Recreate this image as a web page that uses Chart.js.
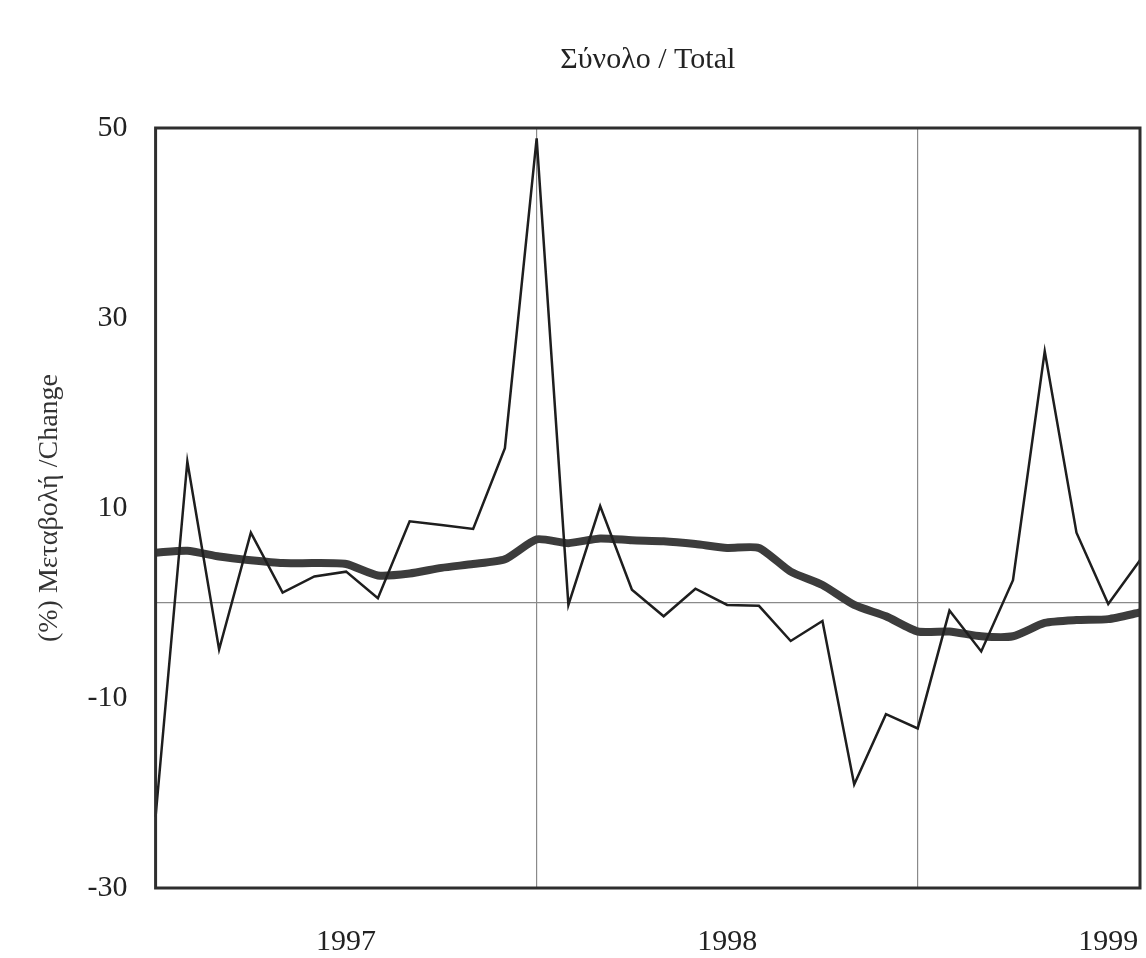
<!DOCTYPE html>
<html>
<head>
<meta charset="utf-8">
<script src="https://cdn.jsdelivr.net/npm/chart.js@4/dist/chart.umd.min.js"></script>
<style>
  body { margin: 0; background: #fff; }
  #wrap { width: 1146px; height: 958px; }
</style>
</head>
<body>
<div id="wrap"><canvas id="myChart" width="1146" height="958"></canvas></div>
<script>
// monthly % change, Jan 1997 .. Aug 1999
const months = [
  "1997-01", "1997-02", "1997-03", "1997-04", "1997-05", "1997-06",
  "1997-07", "1997-08", "1997-09", "1997-10", "1997-11", "1997-12",
  "1998-01", "1998-02", "1998-03", "1998-04", "1998-05", "1998-06",
  "1998-07", "1998-08", "1998-09", "1998-10", "1998-11", "1998-12",
  "1999-01", "1999-02", "1999-03", "1999-04", "1999-05", "1999-06",
  "1999-07", "1999-08",
];
const totalChange = [
  -22.5, 14.9, -4.9, 7.4, 1.1, 2.8, 3.3, 0.5, 8.6, 8.2, 7.8, 16.3,
  48.9, -0.2, 10.2, 1.4, -1.4, 1.5, -0.2, -0.3, -4.0, -1.9, -19.1, -11.7,
  -13.2, -0.8, -5.1, 2.4, 26.5, 7.4, -0.1, 4.5,
];
const trendChange = [
  5.3, 5.5, 4.9, 4.5, 4.2, 4.2, 4.1, 2.9, 3.1, 3.7, 4.1, 4.6,
  6.7, 6.3, 6.8, 6.6, 6.5, 6.2, 5.8, 5.8, 3.3, 1.9, -0.2, -1.4,
  -3.0, -3.0, -3.5, -3.5, -2.1, -1.8, -1.7, -1.0,
];
const yTickLabels = [-30, -10, 10, 30, 50];
const yearLabelMonth = "07"; // year label sits under mid-year
const chartTitle = "Σύνολο / Total";
const yTitle = "(%) Μεταβολή /Change";

const serif = "'Liberation Serif', 'DejaVu Serif', serif";

const framePlugin = {
  id: "frame",
  afterDraw(chart) {
    const a = chart.chartArea;
    const ctx = chart.ctx;
    ctx.save();
    ctx.strokeStyle = "#2e2e2e";
    ctx.lineWidth = 3;
    ctx.strokeRect(a.left, a.top, a.right - a.left, a.bottom - a.top);
    ctx.restore();
  },
};

const ctx = document.getElementById("myChart");
new Chart(ctx, {
  type: "line",
  data: {
    labels: months,
    datasets: [
      {
        label: "total",
        data: totalChange,
        borderColor: "#1e1e1e",
        borderWidth: 2.5,
        pointRadius: 0,
        tension: 0,
      },
      {
        label: "trend",
        data: trendChange,
        borderColor: "#3c3c3c",
        borderWidth: 8,
        pointRadius: 0,
        tension: 0.2,
      },
    ],
  },
  options: {
    responsive: false,
    animation: false,
    layout: { padding: { left: 33, right: 6, top: 0, bottom: -2 } },
    plugins: {
      legend: { display: false },
      tooltip: { enabled: false },
      title: {
        display: true,
        text: chartTitle,
        fullSize: false,
        color: "#222",
        font: { family: serif, size: 30, weight: "normal" },
        padding: { top: 42, bottom: 50 },
      },
    },
    scales: {
      x: {
        type: "category",
        offset: false,
        border: { display: false },
        grid: {
          drawTicks: false,
          color: (c) => (c.index > 0 && c.index % 12 === 0 ? "#8a8a8a" : "rgba(0,0,0,0)"),
          lineWidth: 1.2,
        },
        ticks: {
          autoSkip: false,
          maxRotation: 0,
          padding: 0,
          color: "#222",
          font: { family: serif, size: 30 },
          // empty first line pushes the year down, away from the frame
          callback: function (value, index) {
            const m = months[index];
            return m.slice(5) === yearLabelMonth ? ["", m.slice(0, 4)] : "";
          },
        },
      },
      y: {
        min: -30,
        max: 50,
        border: { display: false },
        grid: {
          drawTicks: false,
          color: (c) => (c.tick && c.tick.value === 0 ? "#8a8a8a" : "rgba(0,0,0,0)"),
          lineWidth: 1.2,
        },
        ticks: {
          stepSize: 10,
          padding: 28,
          color: "#222",
          font: { family: serif, size: 30 },
          callback: (v) => (yTickLabels.includes(v) ? String(v) : ""),
        },
        title: {
          display: true,
          text: yTitle,
          color: "#333",
          font: { family: serif, size: 28 },
          padding: { top: 0, bottom: -7 },
        },
      },
    },
  },
  plugins: [framePlugin],
});
</script>
</body>
</html>
